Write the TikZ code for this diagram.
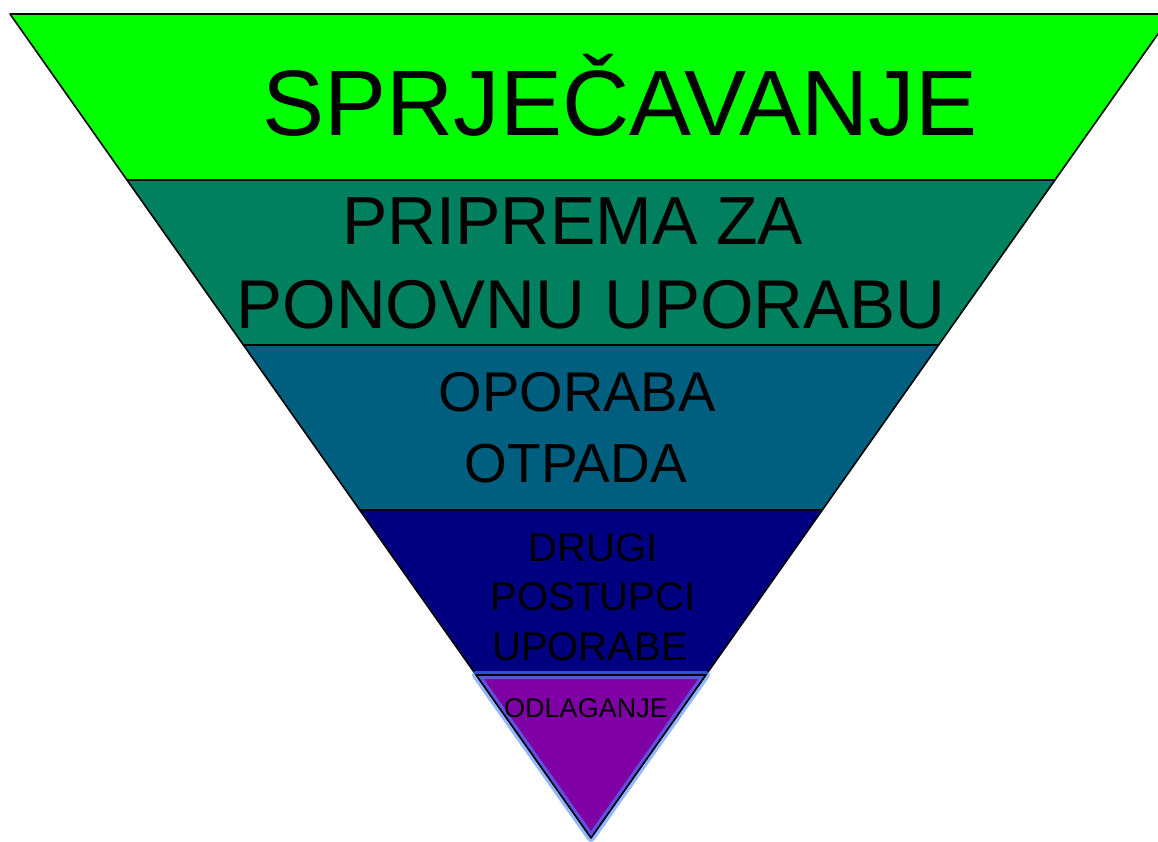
\documentclass[tikz,border=0pt]{standalone}
\usepackage{fontspec}
\setmainfont{Liberation Sans}
\definecolor{bandA}{HTML}{00FF00}
\definecolor{bandB}{HTML}{00805F}
\definecolor{bandC}{HTML}{005F7F}
\definecolor{bandD}{HTML}{000080}
\definecolor{bandE}{HTML}{7F00A5}
\definecolor{glow}{HTML}{4A88FF}
\tikzset{
  band/.style={draw=black, line width=1.6pt, line join=round},
  lbl/.style={anchor=base, inner sep=0pt, text=black},
}
\begin{document}
\begin{tikzpicture}[x=1pt,y=-1pt]
\useasboundingbox (0,0) rectangle (1158,841);
\clip (0,0) rectangle (1158,841);
\fill[white] (0,0) rectangle (1158,841);
% bands
\path[band, fill=bandA] (10,14) -- (1172,14) -- (1055,180) -- (127,180) -- cycle;
\path[band, fill=bandB] (127,180) -- (1055,180) -- (938.6,345) -- (243.4,345) -- cycle;
\path[band, fill=bandC] (243.4,345) -- (938.6,345) -- (822.3,510) -- (359.7,510) -- cycle;
\path[band, fill=bandD] (359.7,510) -- (822.3,510) -- (705.9,675) -- (476.1,675) -- cycle;
\fill[bandE] (476.1,675) -- (705.9,675) -- (591,838) -- cycle;
\draw[glow, line width=8pt, opacity=0.6, line join=round] (476.1,675) -- (705.9,675) -- (591,838) -- cycle;
\draw[black, line width=1.6pt, line join=round] (476.1,675) -- (705.9,675) -- (591,838) -- cycle;
% labels
\node[lbl, font=\fontsize{93}{93}\selectfont] (t1) at (620,135) {SPRJEČAVANJE};
\node[lbl, font=\fontsize{68}{68}\selectfont, anchor=base west] (t2a) at (342,244) {PRIPREMA ZA};
\node[lbl, font=\fontsize{69}{69}\selectfont] (t2b) at (591,328) {PONOVNU UPORABU};
\node[lbl, font=\fontsize{56}{56}\selectfont] (t3a) at (577,411) {OPORABA};
\node[lbl, font=\fontsize{55}{55}\selectfont] (t3b) at (576,482) {OTPADA};
\node[lbl, font=\fontsize{40}{40}\selectfont] (t4a) at (593,561) {DRUGI};
\node[lbl, font=\fontsize{40}{40}\selectfont] (t4b) at (593,610) {POSTUPCI};
\node[lbl, font=\fontsize{40}{40}\selectfont] (t4c) at (590,660) {UPORABE};
\node[lbl, font=\fontsize{27}{27}\selectfont] (t5) at (586,717) {ODLAGANJE};
\end{tikzpicture}
\end{document}
